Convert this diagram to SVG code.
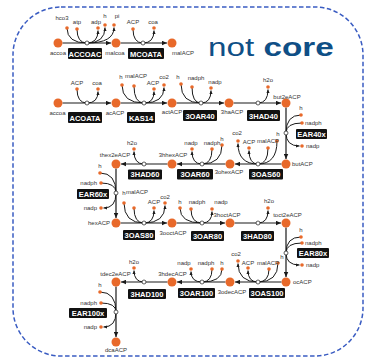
<svg xmlns="http://www.w3.org/2000/svg" width="366" height="358" viewBox="0 0 366 358">
<style>
.m{fill:#e8692a}
.c{fill:#e8692a}
.rc{fill:#fff;stroke:#333;stroke-width:0.8}
.e{fill:none;stroke:#1a1a1a;stroke-width:1.2}
.f{fill:none;stroke:#1a1a1a;stroke-width:1}
.t{font-family:"Liberation Sans",Arial,sans-serif;font-size:6px;fill:#333;text-anchor:middle}
.s{text-anchor:start}
.n{text-anchor:end}
.b{fill:#111}
.bt{font-family:"Liberation Sans",Arial,sans-serif;font-size:7.5px;font-weight:bold;fill:#fff;text-anchor:middle}
</style>
<defs>
<marker id="a" viewBox="0 0 10 10" refX="10" refY="5" markerWidth="6" markerHeight="5" orient="auto" markerUnits="userSpaceOnUse"><path d="M0,0.5 L10,5 L0,9.5z" fill="#1a1a1a"/></marker>
<marker id="p" viewBox="0 0 10 10" refX="10" refY="5" markerWidth="4" markerHeight="3.6" orient="auto" markerUnits="userSpaceOnUse"><path d="M0,0.5 L10,5 L0,9.5z" fill="#1a1a1a"/></marker>
</defs>
<rect x="13" y="7" width="350" height="349" rx="48" fill="none" stroke="#3a5cc2" stroke-width="1.5" stroke-dasharray="4.5 2.5"/>
<text transform="translate(208,56) scale(1.28,1)" font-family="'Liberation Sans',Arial,sans-serif" font-size="26" fill="#0f4f86">not <tspan font-weight="bold">core</tspan></text>

<g id="connectors">
<g marker-end="url(#a)" class="e">
<path d="M62.5,43 H111"/><path d="M120.5,43 H167"/>
<path d="M62.5,103 H111"/><path d="M120.5,103 H167"/><path d="M176.5,103 H224"/><path d="M233.5,103 H281"/>
<path d="M286,107.5 V159"/>
<path d="M281.5,164 H235"/><path d="M225.5,164 H177"/><path d="M167.5,164 H121"/>
<path d="M116,168.5 V218"/>
<path d="M120.5,223 H167"/><path d="M176.5,223 H225"/><path d="M234.5,223 H281"/>
<path d="M286,227.5 V277"/>
<path d="M281.5,282 H235"/><path d="M225.5,282 H177"/><path d="M167.5,282 H121"/>
<path d="M116,286.5 V337"/>
</g>
<g class="f">
<path d="M67,28 Q67,43 87,43"/><path d="M77,29 Q77,43 87,43"/>
<path d="M133,29 Q133,43 143,43"/>
<path d="M77,89 Q77,103 87,103"/>
<path d="M122,85 Q122,103 144,103"/><path d="M134,86 Q134,103 144,103"/>
<path d="M181,84 Q181,103 201,103"/><path d="M192,87 Q192,103 201,103"/>
<path d="M301,115 Q286,115 286,133"/><path d="M302,123 Q286,123 286,133"/>
<path d="M277,141 Q277,164 258,164"/><path d="M268,148 Q268,164 258,164"/>
<path d="M222,145 Q222,164 202,164"/><path d="M212,149 Q212,164 202,164"/>
<path d="M100,173 Q116,173 116,193"/><path d="M101,183 Q116,183 116,193"/>
<path d="M124,203 Q124,223 144,223"/><path d="M134,208 Q134,223 144,223"/>
<path d="M180,208 Q180,223 202,223"/><path d="M191,209 Q191,223 202,223"/>
<path d="M301,237 Q286,237 286,253"/><path d="M302,243 Q286,243 286,253"/>
<path d="M278,263 Q278,282 258,282"/><path d="M269,269 Q269,282 258,282"/>
<path d="M222,269 Q222,282 202,282"/><path d="M212,269 Q212,282 202,282"/>
<path d="M100,292 Q116,292 116,312"/><path d="M101,303 Q116,303 116,312"/>
</g>
<g class="f" marker-end="url(#p)">
<path d="M87,43 Q98,43 98,30.5"/><path d="M87,43 Q105,43 105,27.5"/><path d="M87,43 Q114,43 114,27.5"/>
<path d="M143,43 Q154,43 154,30.5"/>
<path d="M87,103 Q98,103 98,91.5"/>
<path d="M144,103 Q154,103 154,91.5"/><path d="M144,103 Q164,103 164,87.5"/>
<path d="M201,103 Q211,103 211,90.5"/>
<path d="M258,103 Q268,103 268,89.5"/>
<path d="M286,133 Q286,146 299.5,146"/>
<path d="M258,164 Q249,164 249,150.5"/><path d="M258,164 Q238,164 238,143.5"/>
<path d="M202,164 Q192,164 192,151.5"/>
<path d="M144,164 Q134,164 134,151.5"/>
<path d="M116,193 Q116,208 103.5,208"/>
<path d="M144,223 Q154,223 154,210.5"/><path d="M144,223 Q165,223 165,205.5"/>
<path d="M202,223 Q212,223 212,211.5"/>
<path d="M258,223 Q268,223 268,210.5"/>
<path d="M286,253 Q286,265 299.5,265"/>
<path d="M258,282 Q248,282 248,270.5"/><path d="M258,282 Q238,282 238,263.5"/>
<path d="M202,282 Q191,282 191,271.5"/>
<path d="M144,282 Q134,282 134,270.5"/>
<path d="M116,312 Q116,327 103.5,327"/>
</g>
</g>

<g id="n-accoa1"><circle class="m" cx="58" cy="43" r="4.5"/><text class="t" x="58" y="54.5">accoa</text></g>
<g id="n-malcoa"><circle class="m" cx="116" cy="43" r="4.5"/><text class="t" x="115" y="54.5">malcoa</text></g>
<g id="n-malACP"><circle class="m" cx="172" cy="43" r="4.5"/><text class="t s" x="172" y="54.5">malACP</text></g>
<g id="n-accoa2"><circle class="m" cx="58" cy="103" r="4.5"/><text class="t" x="57.5" y="115">accoa</text></g>
<g id="n-acACP"><circle class="m" cx="116" cy="103" r="4.5"/><text class="t" x="115" y="115">acACP</text></g>
<g id="n-actACP"><circle class="m" cx="172" cy="103" r="4.5"/><text class="t" x="172" y="114">actACP</text></g>
<g id="n-3haACP"><circle class="m" cx="229" cy="103" r="4.5"/><text class="t" x="232" y="114">3haACP</text></g>
<g id="n-but2eACP"><circle class="m" cx="286" cy="103" r="4.5"/><text class="t" x="287" y="98.5">but2eACP</text></g>
<g id="n-butACP"><circle class="m" cx="286" cy="164" r="4.5"/><text class="t s" x="292" y="166">butACP</text></g>
<g id="n-3ohexACP"><circle class="m" cx="230" cy="164" r="4.5"/><text class="t" x="229" y="174">3ohexACP</text></g>
<g id="n-3hhexACP"><circle class="m" cx="172" cy="164" r="4.5"/><text class="t" x="173" y="157">3hhexACP</text></g>
<g id="n-thex2eACP"><circle class="m" cx="116" cy="164" r="4.5"/><text class="t" x="115" y="157">thex2eACP</text></g>
<g id="n-hexACP"><circle class="m" cx="116" cy="223" r="4.5"/><text class="t n" x="110" y="225">hexACP</text></g>
<g id="n-3ooctACP"><circle class="m" cx="172" cy="223" r="4.5"/><text class="t" x="173" y="235">3ooctACP</text></g>
<g id="n-3hoctACP"><circle class="m" cx="230" cy="223" r="4.5"/><text class="t" x="227" y="217">3hoctACP</text></g>
<g id="n-toct2eACP"><circle class="m" cx="286" cy="223" r="4.5"/><text class="t" x="287.5" y="217">toct2eACP</text></g>
<g id="n-ocACP"><circle class="m" cx="286" cy="282" r="4.5"/><text class="t s" x="293" y="284">ocACP</text></g>
<g id="n-3odecACP"><circle class="m" cx="230" cy="282" r="4.5"/><text class="t" x="232" y="294">3odecACP</text></g>
<g id="n-3hdecACP"><circle class="m" cx="172" cy="282" r="4.5"/><text class="t" x="172.5" y="276">3hdecACP</text></g>
<g id="n-tdec2eACP"><circle class="m" cx="116" cy="282" r="4.5"/><text class="t" x="115.5" y="276">tdec2eACP</text></g>
<g id="n-dcaACP"><circle class="m" cx="116" cy="342" r="4.5"/><text class="t" x="116" y="352">dcaACP</text></g>

<g id="r-ACCOAC"><rect class="b" x="68" y="48" width="34" height="11" rx="1"/><text class="bt" x="85" y="56.5">ACCOAC</text><circle class="rc" cx="87" cy="43" r="2"/>
<circle class="c" cx="67" cy="28" r="1.8"/><text class="t" x="62" y="19.5">hco3</text>
<circle class="c" cx="77" cy="29" r="1.8"/><text class="t" x="77" y="23.5">atp</text>
<circle class="c" cx="98" cy="28" r="1.8"/><text class="t" x="96" y="23.5">adp</text>
<circle class="c" cx="105" cy="25" r="1.8"/><text class="t" x="105" y="17.5">h</text>
<circle class="c" cx="114" cy="25" r="1.8"/><text class="t" x="117" y="17.5">pi</text></g>
<g id="r-MCOATA"><rect class="b" x="128" y="48" width="36" height="11" rx="1"/><text class="bt" x="146" y="56.5">MCOATA</text><circle class="rc" cx="143" cy="43" r="2"/>
<circle class="c" cx="133" cy="29" r="1.8"/><text class="t" x="133" y="23.5">ACP</text>
<circle class="c" cx="154" cy="28" r="1.8"/><text class="t" x="153" y="23.5">coa</text></g>
<g id="r-ACOATA"><rect class="b" x="68" y="112" width="34" height="11" rx="1"/><text class="bt" x="85" y="120.5">ACOATA</text><circle class="rc" cx="87" cy="103" r="2"/>
<circle class="c" cx="77" cy="89" r="1.8"/><text class="t" x="77" y="85">ACP</text>
<circle class="c" cx="98" cy="89" r="1.8"/><text class="t" x="97" y="85">coa</text></g>
<g id="r-KAS14"><rect class="b" x="127" y="112" width="28" height="11" rx="1"/><text class="bt" x="141" y="120.5">KAS14</text><circle class="rc" cx="144" cy="103" r="2"/>
<circle class="c" cx="122" cy="85" r="1.8"/><text class="t" x="121" y="79">h</text>
<circle class="c" cx="134" cy="86" r="1.8"/><text class="t" x="136" y="78">malACP</text>
<circle class="c" cx="154" cy="89" r="1.8"/><text class="t" x="153" y="85">ACP</text>
<circle class="c" cx="164" cy="85" r="1.8"/><text class="t" x="164" y="79">co2</text></g>
<g id="r-3OAR40"><rect class="b" x="183" y="110" width="34" height="11" rx="1"/><text class="bt" x="200" y="118.5">3OAR40</text><circle class="rc" cx="201" cy="103" r="2"/>
<circle class="c" cx="181" cy="84" r="1.8"/><text class="t" x="178" y="78.5">h</text>
<circle class="c" cx="192" cy="87" r="1.8"/><text class="t" x="196" y="80">nadph</text>
<circle class="c" cx="211" cy="88" r="1.8"/><text class="t" x="215" y="84">nadp</text></g>
<g id="r-3HAD40"><rect class="b" x="247" y="110" width="33" height="11" rx="1"/><text class="bt" x="263.5" y="118.5">3HAD40</text><circle class="rc" cx="258" cy="103" r="2"/>
<circle class="c" cx="268" cy="87" r="1.8"/><text class="t" x="268" y="82">h2o</text></g>
<g id="r-EAR40x"><rect class="b" x="296" y="129" width="31" height="10" rx="1"/><text class="bt" x="311.5" y="136.8">EAR40x</text><circle class="rc" cx="286" cy="133" r="2"/>
<circle class="c" cx="301" cy="115" r="1.8"/><text class="t" x="301" y="109.5">h</text>
<circle class="c" cx="302" cy="123" r="1.8"/><text class="t s" x="305" y="125">nadph</text>
<circle class="c" cx="302" cy="146" r="1.8"/><text class="t s" x="306" y="148">nadp</text></g>
<g id="r-3OAS60"><rect class="b" x="249" y="169" width="34" height="10.5" rx="1"/><text class="bt" x="266" y="177.2">3OAS60</text><circle class="rc" cx="258" cy="164" r="2"/>
<circle class="c" cx="277" cy="141" r="1.8"/><text class="t" x="278" y="136">h</text>
<circle class="c" cx="268" cy="148" r="1.8"/><text class="t" x="268" y="143">malACP</text>
<circle class="c" cx="249" cy="148" r="1.8"/><text class="t" x="249" y="143.5">ACP</text>
<circle class="c" cx="238" cy="141" r="1.8"/><text class="t" x="237" y="135">co2</text></g>
<g id="r-3OAR60"><rect class="b" x="177" y="169" width="36" height="10.5" rx="1"/><text class="bt" x="195" y="177.2">3OAR60</text><circle class="rc" cx="202" cy="164" r="2"/>
<circle class="c" cx="222" cy="145" r="1.8"/><text class="t" x="222" y="140.5">h</text>
<circle class="c" cx="212" cy="149" r="1.8"/><text class="t" x="212" y="145">nadph</text>
<circle class="c" cx="192" cy="149" r="1.8"/><text class="t" x="191" y="145">nadp</text></g>
<g id="r-3HAD60"><rect class="b" x="128" y="169.5" width="34" height="10" rx="1"/><text class="bt" x="145" y="177.3">3HAD60</text><circle class="rc" cx="144" cy="164" r="2"/>
<circle class="c" cx="134" cy="149" r="1.8"/><text class="t" x="132" y="145">h2o</text></g>
<g id="r-EAR60x"><rect class="b" x="77" y="189" width="32" height="10" rx="1"/><text class="bt" x="93" y="196.8">EAR60x</text><circle class="rc" cx="116" cy="193" r="2"/>
<circle class="c" cx="100" cy="173" r="1.8"/><text class="t" x="100" y="168">h</text>
<circle class="c" cx="101" cy="183" r="1.8"/><text class="t n" x="97" y="185">nadph</text>
<circle class="c" cx="101" cy="208" r="1.8"/><text class="t n" x="97" y="210">nadp</text></g>
<g id="r-3OAS80"><rect class="b" x="123" y="230" width="32" height="10" rx="1"/><text class="bt" x="139" y="237.8">3OAS80</text><circle class="rc" cx="144" cy="223" r="2"/>
<circle class="c" cx="124" cy="203" r="1.8"/><text class="t" x="124" y="195">h</text>
<circle class="c" cx="134" cy="208" r="1.8"/><text class="t" x="137" y="194">malACP</text>
<circle class="c" cx="154" cy="208" r="1.8"/><text class="t" x="154" y="204">ACP</text>
<circle class="c" cx="165" cy="203" r="1.8"/><text class="t" x="165" y="199">co2</text></g>
<g id="r-3OAR80"><rect class="b" x="191" y="231" width="33" height="10" rx="1"/><text class="bt" x="207.5" y="238.8">3OAR80</text><circle class="rc" cx="202" cy="223" r="2"/>
<circle class="c" cx="180" cy="208" r="1.8"/><text class="t" x="180" y="204">h</text>
<circle class="c" cx="191" cy="209" r="1.8"/><text class="t" x="197" y="204">nadph</text>
<circle class="c" cx="212" cy="209" r="1.8"/><text class="t" x="221" y="204">nadp</text></g>
<g id="r-3HAD80"><rect class="b" x="241" y="231" width="33" height="10" rx="1"/><text class="bt" x="257.5" y="238.8">3HAD80</text><circle class="rc" cx="258" cy="223" r="2"/>
<circle class="c" cx="268" cy="208" r="1.8"/><text class="t" x="269" y="203">h2o</text></g>
<g id="r-EAR80x"><rect class="b" x="297" y="248" width="32" height="10" rx="1"/><text class="bt" x="313" y="255.8">EAR80x</text><circle class="rc" cx="286" cy="253" r="2"/>
<circle class="c" cx="301" cy="237" r="1.8"/><text class="t" x="301" y="232">h</text>
<circle class="c" cx="302" cy="243" r="1.8"/><text class="t s" x="305" y="244.5">nadph</text>
<circle class="c" cx="302" cy="265" r="1.8"/><text class="t s" x="306" y="267">nadp</text></g>
<g id="r-3OAS100"><rect class="b" x="249" y="288" width="36" height="10" rx="1"/><text class="bt" x="267" y="295.8">3OAS100</text><circle class="rc" cx="258" cy="282" r="2"/>
<circle class="c" cx="278" cy="263" r="1.8"/><text class="t" x="282" y="259">h</text>
<circle class="c" cx="269" cy="269" r="1.8"/><text class="t" x="268" y="265">malACP</text>
<circle class="c" cx="248" cy="268" r="1.8"/><text class="t" x="248" y="265">ACP</text>
<circle class="c" cx="238" cy="261" r="1.8"/><text class="t" x="236" y="256">co2</text></g>
<g id="r-3OAR100"><rect class="b" x="178" y="288" width="37" height="10" rx="1"/><text class="bt" x="196.5" y="295.8">3OAR100</text><circle class="rc" cx="202" cy="282" r="2"/>
<circle class="c" cx="222" cy="269" r="1.8"/><text class="t" x="222" y="265">h</text>
<circle class="c" cx="212" cy="269" r="1.8"/><text class="t" x="206" y="265">nadph</text>
<circle class="c" cx="191" cy="269" r="1.8"/><text class="t" x="184" y="265">nadp</text></g>
<g id="r-3HAD100"><rect class="b" x="128" y="289" width="38" height="10" rx="1"/><text class="bt" x="147" y="296.8">3HAD100</text><circle class="rc" cx="144" cy="282" r="2"/>
<circle class="c" cx="134" cy="268" r="1.8"/><text class="t" x="134" y="264">h2o</text></g>
<g id="r-EAR100x"><rect class="b" x="69" y="308" width="38" height="10" rx="1"/><text class="bt" x="88" y="315.8">EAR100x</text><circle class="rc" cx="116" cy="312" r="2"/>
<circle class="c" cx="100" cy="292" r="1.8"/><text class="t" x="100" y="287">h</text>
<circle class="c" cx="101" cy="303" r="1.8"/><text class="t n" x="97" y="305">nadph</text>
<circle class="c" cx="101" cy="327" r="1.8"/><text class="t n" x="97" y="329">nadp</text></g>
</svg>
